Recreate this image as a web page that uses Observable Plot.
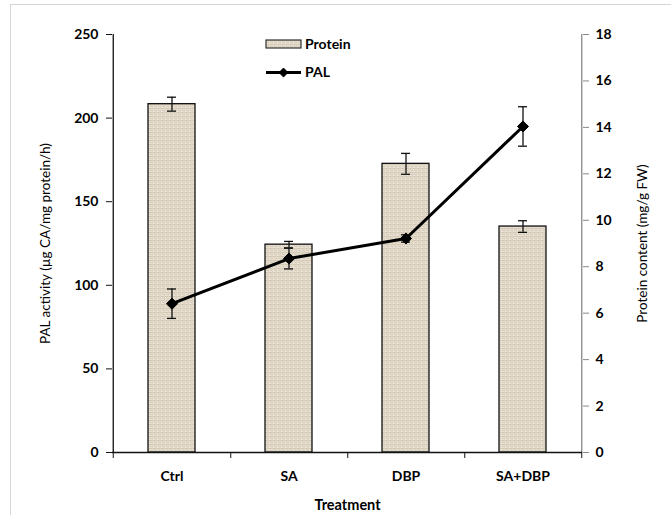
<!DOCTYPE html>
<html><head><meta charset="utf-8">
<script src="https://cdn.jsdelivr.net/npm/d3@7"></script>
<script src="https://cdn.jsdelivr.net/npm/@observablehq/plot@0.6"></script>
<style>
body{margin:0;background:#fff;font-family:Lato,"Open Sans",sans-serif;}
#wrap{position:relative;width:671px;height:515px;overflow:hidden;background:#fff;}
#frame{position:absolute;left:10px;top:4px;width:700px;height:600px;border:1px solid #d6d6d6;}
#chart{position:absolute;left:0;top:0;}
#legend{position:absolute;left:0;top:0;}
</style></head><body>
<svg width="0" height="0" style="position:absolute">
  <defs>
    <pattern id="tex" width="4" height="4" patternUnits="userSpaceOnUse">
      <rect width="4" height="4" fill="#e9e2d4"/>
      <path d="M0,0.5H4M2,2.5H4" stroke="#d2c8b4" stroke-width="1"/>
      <path d="M0.5,0V4M2.5,1V3" stroke="#dcd3c2" stroke-width="1"/>
    </pattern>
  </defs>
</svg>
<div id="wrap"><div id="frame"></div><div id="chart"></div><div id="legend"></div></div>
<script>
// ---- data ----
const categories = ["Ctrl", "SA", "DBP", "SA+DBP"];
const proteinValues = [15.0, 8.95, 12.43, 9.73];   // mg/g FW (right axis)
const proteinErrors = [0.3, 0.14, 0.45, 0.25];
const palValues = [89, 116, 128, 195];              // µg CA/mg protein/h (left axis)
const palErrors = [8.8, 6.2, 2.2, 11.8];
const leftTicks = [0, 50, 100, 150, 200, 250];
const rightTicks = [0, 2, 4, 6, 8, 10, 12, 14, 16, 18];
const leftTitle = "PAL activity (µg CA/mg protein/h)";
const rightTitle = "Protein content (mg/g FW)";
const xTitle = "Treatment";
const legendLabels = ["Protein", "PAL"];

const leftMax = 250, rightMax = 18;
const k = leftMax / rightMax;

const data = categories.map((c, i) => ({
  cat: c,
  protein: proteinValues[i] * k,
  pLo: (proteinValues[i] - proteinErrors[i]) * k,
  pHi: (proteinValues[i] + proteinErrors[i]) * k,
  pal: palValues[i],
  aLo: palValues[i] - palErrors[i],
  aHi: palValues[i] + palErrors[i]
}));

const W = 671, H = 515, mL = 112, mR = 89, mT = 34, mB = 63;
const step = (W - mL - mR) / categories.length;
const bw = step * 0.4;
const cap = 9;
const inset = (bw - cap) / 2;
const font = "Lato, 'Open Sans', sans-serif";

const plot = Plot.plot({
  width: W, height: H,
  marginLeft: mL, marginRight: mR, marginTop: mT, marginBottom: mB,
  style: {fontFamily: font, background: "transparent", color: "black"},
  x: {domain: categories, paddingInner: 0.6, paddingOuter: 0.3, axis: null},
  y: {domain: [0, leftMax], axis: null},
  marks: [
    Plot.barY(data, {x: "cat", y: "protein", fill: "url(#tex)", stroke: "#111", strokeWidth: 1.3}),
    Plot.ruleX(data, {x: "cat", y1: "pLo", y2: "pHi", stroke: "#111", strokeWidth: 1.3}),
    Plot.tickY(data, {x: "cat", y: "pLo", insetLeft: inset, insetRight: inset, stroke: "#111", strokeWidth: 1.3}),
    Plot.tickY(data, {x: "cat", y: "pHi", insetLeft: inset, insetRight: inset, stroke: "#111", strokeWidth: 1.3}),
    Plot.line(data, {x: "cat", y: "pal", stroke: "black", strokeWidth: 3}),
    Plot.ruleX(data, {x: "cat", y1: "aLo", y2: "aHi", stroke: "#111", strokeWidth: 1.3}),
    Plot.tickY(data, {x: "cat", y: "aLo", insetLeft: inset, insetRight: inset, stroke: "#111", strokeWidth: 1.3}),
    Plot.tickY(data, {x: "cat", y: "aHi", insetLeft: inset, insetRight: inset, stroke: "#111", strokeWidth: 1.3}),
    Plot.dot(data, {x: "cat", y: "pal", symbol: "diamond2", r: 5, fill: "black", stroke: "black", strokeWidth: 1}),
    // axis lines
    Plot.ruleX([categories[0]], {dx: -step / 2, y1: 0, y2: leftMax, stroke: "#111", strokeWidth: 1.3}),
    Plot.ruleX([categories[categories.length - 1]], {dx: step / 2, y1: 0, y2: leftMax, stroke: "#888", strokeWidth: 1.3}),
    Plot.ruleY([0], {stroke: "#111", strokeWidth: 1.3}),
    // left axis
    Plot.axisY({ticks: leftTicks, anchor: "left", tickSize: 6, tickPadding: 8, fontSize: 14, fontWeight: "bold", label: null, stroke: "#111"}),
    // right axis
    Plot.axisY({ticks: rightTicks.map(v => v * k), tickFormat: v => String(Math.round(v / k)), anchor: "right", tickSize: 6, tickPadding: 7, fontSize: 14, fontWeight: "bold", label: null, stroke: "#888"}),
    // x axis boundary ticks and labels
    Plot.axisX(categories, {tickSize: 6, text: null, dx: step / 2, stroke: "#111", label: null}),
    Plot.axisX([categories[0]], {tickSize: 6, text: null, dx: -step / 2, stroke: "#111", label: null}),
    Plot.axisX(categories, {tickSize: 0, tickPadding: 19, fontSize: 14, fontWeight: "bold", label: null}),
    // titles
    Plot.text([leftTitle], {frameAnchor: "left", textAnchor: "middle", rotate: -90, dx: -67, fontSize: 13.5}),
    Plot.text([rightTitle], {frameAnchor: "right", textAnchor: "middle", rotate: -90, dx: 60, fontSize: 13.5}),
    Plot.text([xTitle], {frameAnchor: "bottom", dy: 57, fontSize: 14.5, fontWeight: "bold"})
  ]
});
document.getElementById("chart").appendChild(plot);

// legend (overlay inside plot area)
const leg = d3.select("#legend").append("svg").attr("width", 400).attr("height", 100)
  .style("font-family", font);
leg.append("rect").attr("x", 266).attr("y", 40).attr("width", 35).attr("height", 8)
  .attr("fill", "url(#tex)").attr("stroke", "#333").attr("stroke-width", 1.2);
leg.append("text").attr("x", 305).attr("y", 44).attr("dy", "0.35em")
  .attr("font-size", 14).attr("font-weight", "bold").text(legendLabels[0]);
leg.append("line").attr("x1", 266).attr("x2", 301).attr("y1", 72.5).attr("y2", 72.5)
  .attr("stroke", "black").attr("stroke-width", 3);
leg.append("path").attr("transform", "translate(283.5,72.5)")
  .attr("d", d3.symbol(d3.symbolDiamond2, 50)()).attr("fill", "black").attr("stroke", "black");
leg.append("text").attr("x", 305).attr("y", 72.5).attr("dy", "0.35em")
  .attr("font-size", 14).attr("font-weight", "bold").text(legendLabels[1]);
</script>
</body></html>
